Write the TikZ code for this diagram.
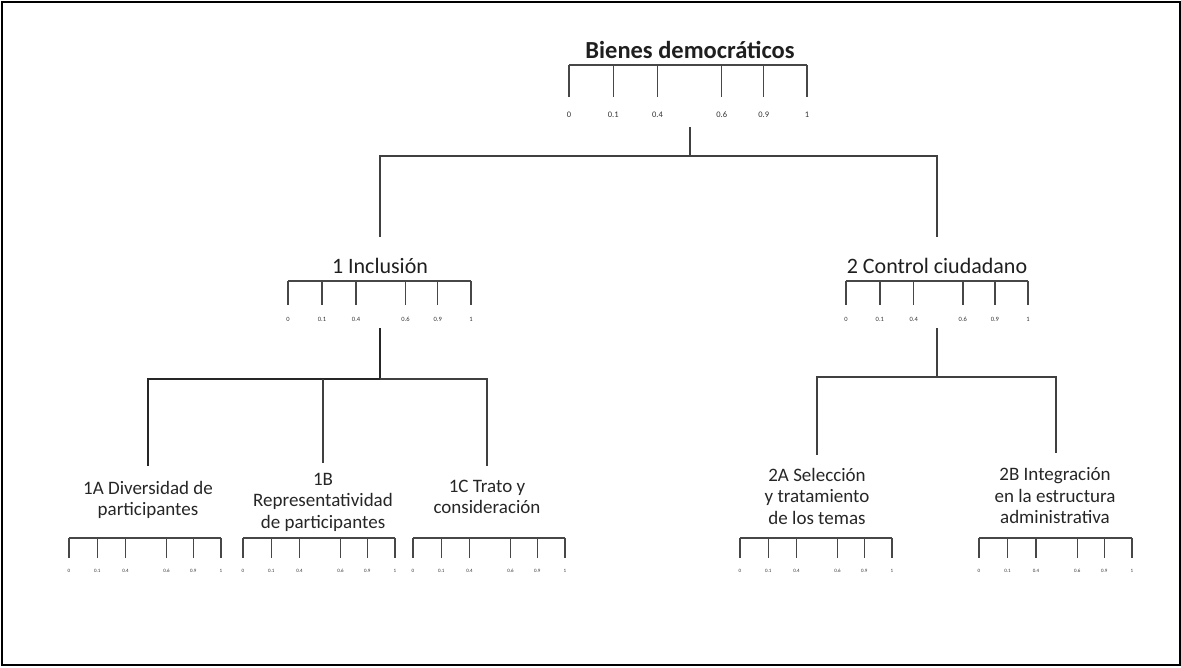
\documentclass[tikz,border=0pt]{standalone}
\usepackage{fontspec}
\setmainfont{Carlito}
\newcommand\fsz[2]{\fontsize{#1}{#2}\selectfont}
% \valueruler{name}{x0}{x1}{bar y}{tick length}{label y}{label size}
\newcommand\valueruler[7]{%
  \draw[rulerline] (#2,#4) -- (#3,#4);
  \foreach \f/\v [count=\i] in {0/0,0.186/0.1,0.372/0.4,0.642/0.6,0.818/0.9,1/1}{%
    \draw[rulerline] ({#2+\f*(#3-#2)},#4) -- ++(0,#5);
    \node[ticklabel,font=\fsz{#7}{#7}] (#1-\i) at ({#2+\f*(#3-#2)},#6) {\v};
  }%
}
\begin{document}
\begin{tikzpicture}[x=1pt,y=-1pt,
  link/.style={draw=black!75,line width=1.4pt},
  rulerline/.style={draw=black!72,line width=1.3pt},
  ticklabel/.style={anchor=base,inner sep=0pt,text=black!80},
  topttl/.style={anchor=base,inner sep=0pt,text=black!88,font=\bfseries\fsz{24.5}{28}},
  midttl/.style={anchor=base,inner sep=0pt,text=black!88,font=\fsz{22}{26}},
  leafttl/.style={inner sep=0pt,align=center,text=black!85,font=\fsz{19}{21.5}}]
\useasboundingbox (0,0) rectangle (1181,667);
\draw[line width=2pt] (1.5,2) rectangle (1179.5,665);

% root
\node[topttl] (root) at (690,58) {Bienes democráticos};
\valueruler{r}{569}{807}{65}{32}{117}{8.5}

% first level
\node[midttl] (inc) at (380,273) {1 Inclusión};
\valueruler{i}{288}{471}{281}{24}{321}{6.5}
\node[midttl] (ctl) at (937,273) {2 Control ciudadano};
\valueruler{c}{846}{1028}{281}{24}{321}{6.5}

% leaves
\node[leafttl] (a1) at (148,500) {1A Diversidad de\\participantes};
\valueruler{a1s}{69}{221}{538}{20}{572}{5}
\node[leafttl] (b1) at (323,502) {1B\\Representatividad\\de participantes};
\valueruler{b1s}{243}{395}{538}{20}{572}{5}
\node[leafttl] (c1) at (487,497) {1C Trato y\\consideración};
\valueruler{c1s}{413}{565}{538}{20}{572}{5}
\node[leafttl] (a2) at (817,496) {2A Selección\\y tratamiento\\de los temas};
\valueruler{a2s}{740}{892}{538}{20}{572}{5}
\node[leafttl] (b2) at (1055,496) {2B Integración\\en la estructura\\administrativa};
\valueruler{b2s}{979}{1132}{538}{20}{572}{5}

% connector end points
\coordinate (root-stem) at (690,127);
\coordinate (root-bus) at (690,156);
\coordinate (inc-in) at (380,237);
\coordinate (ctl-in) at (937,237);
\coordinate (inc-stem) at (380,328);
\coordinate (inc-bus) at (380,379);
\coordinate (ctl-stem) at (937,328);
\coordinate (ctl-bus) at (937,377);
\coordinate (a1-in) at (148,466);
\coordinate (b1-in) at (323,463);
\coordinate (c1-in) at (487,466);
\coordinate (a2-in) at (817,455);
\coordinate (b2-in) at (1056,453);

% tree connectors
\draw[link] (root-stem) -- (root-bus) -| (inc-in);
\draw[link] (root-bus) -| (ctl-in);
\draw[link,line width=1.8pt,draw=black!85] (inc-stem) -- (inc-bus) -| (a1-in);
\draw[link] (inc-bus) -| (c1-in);
\draw[link] (b1-in |- inc-bus) -- (b1-in);
\draw[link] (ctl-stem) -- (ctl-bus) -| (a2-in);
\draw[link] (ctl-bus) -| (b2-in);
\end{tikzpicture}
\end{document}
